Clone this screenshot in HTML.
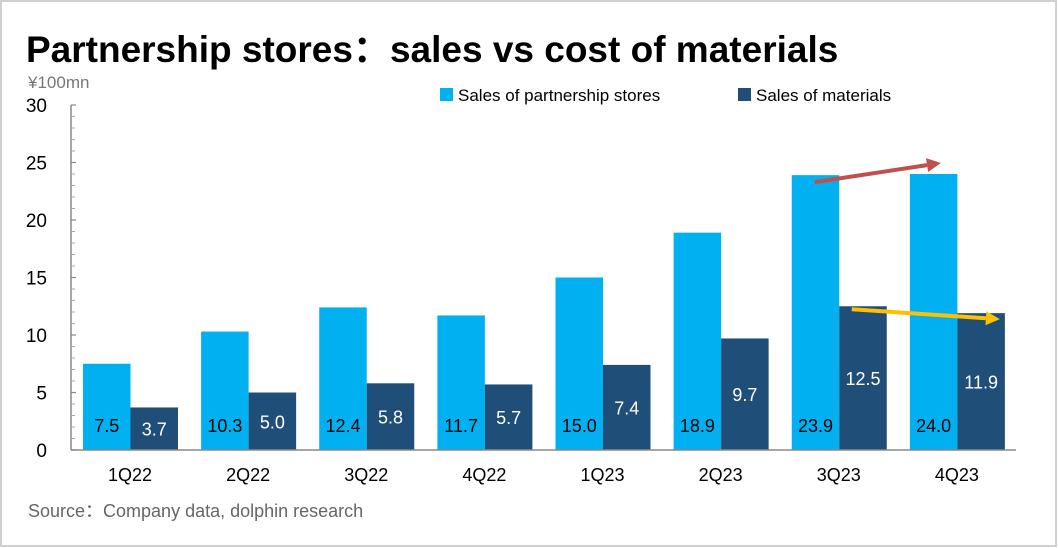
<!DOCTYPE html>
<html><head><meta charset="utf-8"><style>
body{margin:0;background:#fff}
#wrap{position:relative;width:1058px;height:548px;overflow:hidden;font-family:"Liberation Sans","Noto Sans CJK SC",sans-serif}
</style></head><body>
<div id="wrap">
<svg id="svg" width="1058" height="548" xmlns="http://www.w3.org/2000/svg">
<rect x="1" y="1" width="1055" height="545" fill="#fff" stroke="#d0d0d0" stroke-width="2"/>
<text x="26" y="62" font-size="37" font-weight="bold" fill="#000">Partnership stores：sales vs cost of materials</text>
<text x="28" y="88" font-size="17" fill="#777">¥100mn</text>
<rect x="440" y="88" width="13" height="13" fill="#00b0f0"/>
<text x="458" y="101" font-size="17" fill="#000">Sales of partnership stores</text>
<rect x="738" y="88" width="13" height="13" fill="#1f4e79"/>
<text x="756" y="101" font-size="17" fill="#000">Sales of materials</text>
<text x="28" y="517" font-size="18" fill="#666">Source：Company data, dolphin research</text>
<g id="plot"></g>
</svg>
</div>
<script>
const categories=["1Q22","2Q22","3Q22","4Q22","1Q23","2Q23","3Q23","4Q23"];
const storeSales=[7.5,10.3,12.4,11.7,15.0,18.9,23.9,24.0];
const materialSales=[3.7,5.0,5.8,5.7,7.4,9.7,12.5,11.9];
const yTicks=[0,5,10,15,20,25,30];
const NS="http://www.w3.org/2000/svg";
const g=document.getElementById('plot');
const x0=71,x1=1016,yBase=450,yTop=105,yMax=30;
const bw=(x1-x0)/categories.length;
const y=v=>yBase-(yBase-yTop)*v/yMax;
function mk(t,a){const e=document.createElementNS(NS,t);for(const k in a)e.setAttribute(k,a[k]);g.appendChild(e);return e;}
// y axis
let ax=mk('line',{x1:x0,y1:yTop,x2:x0,y2:yBase,stroke:'#888','stroke-width':1.5});


yTicks.forEach(t=>{
  const tl=mk('line',{x1:x0,y1:y(t),x2:x0+5,y2:y(t),stroke:'#888','stroke-width':1.2});
  
  
  const tx=mk('text',{x:47,y:y(t)+7,'font-size':19,'text-anchor':'end',fill:'#000'});
  tx.textContent=t;
  
  
});
for(let t=0;t<yMax;t+=1){if(t%5===0)continue;
  const m=mk('line',{x1:x0,y1:y(t),x2:x0+4,y2:y(t),stroke:'#aaa','stroke-width':1});
  
  }
const bW=47.5;
categories.forEach((c,i)=>{
  const gx=x0+i*bw+12;
  const r1=mk('rect',{x:gx,y:y(storeSales[i]),width:bW,height:yBase-y(storeSales[i]),fill:'#00b0f0'});
  
  
  const r2=mk('rect',{x:gx+bW,y:y(materialSales[i]),width:bW,height:yBase-y(materialSales[i]),fill:'#1f4e79'});
  
  
  const l1=mk('text',{x:gx+bW/2,y:432,'font-size':18,'text-anchor':'middle',fill:'#000'});
  l1.textContent=storeSales[i].toFixed(1);
  
  
  const l2=mk('text',{x:gx+bW*1.5,y:(y(materialSales[i])+yBase)/2+7,'font-size':18,'text-anchor':'middle',fill:'#fff'});
  l2.textContent=materialSales[i].toFixed(1);
  
  
  const xl=mk('text',{x:x0+(i+0.5)*bw,y:481,'font-size':18,'text-anchor':'middle',fill:'#000'});
  xl.textContent=c;
  
  
});
let xa=mk('line',{x1:x0,y1:yBase,x2:x1,y2:yBase,stroke:'#888','stroke-width':1.5});


// arrows
function arrow(xa1,ya1,xa2,ya2,col,name){
  const ang=Math.atan2(ya2-ya1,xa2-xa1),L=14,W=7;
  const bx=xa2-L*Math.cos(ang),by=ya2-L*Math.sin(ang);
  const ln=mk('line',{x1:xa1,y1:ya1,x2:bx,y2:by,stroke:col,'stroke-width':4});
  
  
  const px=-Math.sin(ang)*W,py=Math.cos(ang)*W;
  const p=mk('polygon',{points:`${xa2},${ya2} ${bx+px},${by+py} ${bx-px},${by-py}`,fill:col});
  
  
}
const i6=6,i7=7;
arrow(x0+i6*bw+35,y(storeSales[i6])+7,x0+i7*bw+43,y(storeSales[i7])-11,'#c0504d','arrow-partnership-trend');
arrow(x0+i6*bw+72,y(materialSales[i6])+3,x0+i7*bw+102,y(materialSales[i7])+6,'#ffc000','arrow-materials-trend');
</script>
</body></html>
